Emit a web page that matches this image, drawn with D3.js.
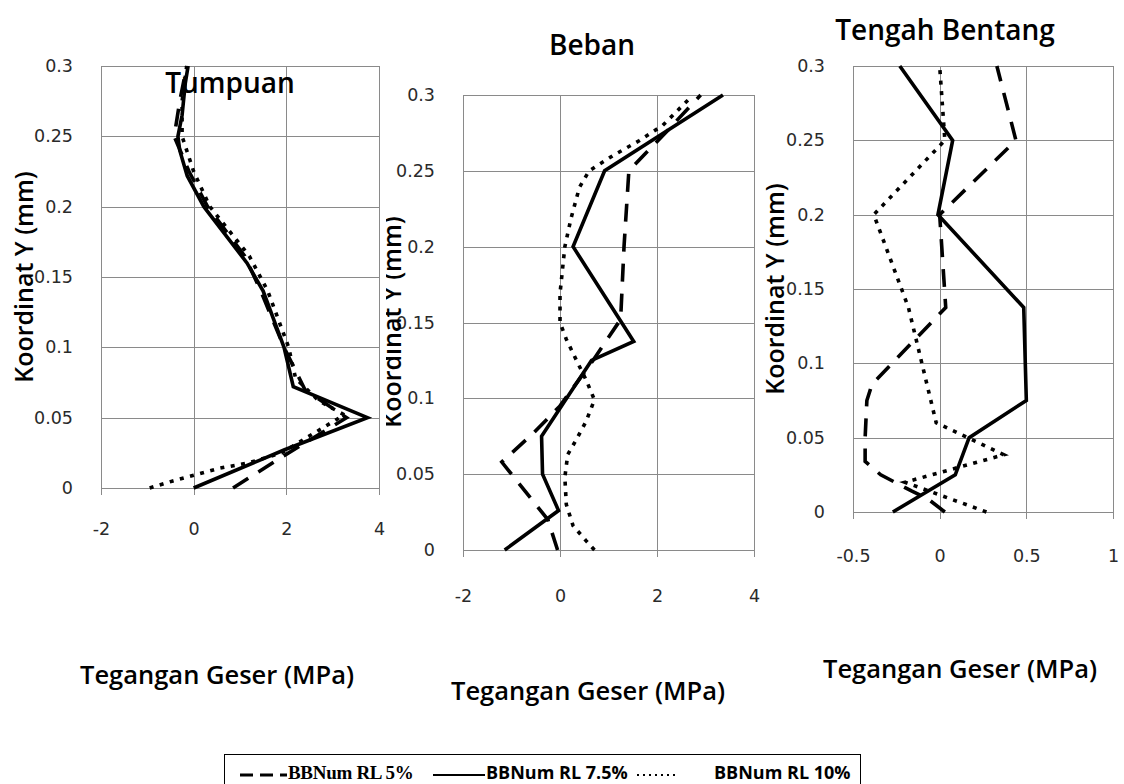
<!DOCTYPE html>
<html><head><meta charset="utf-8">
<script src="https://cdn.jsdelivr.net/npm/d3@7"></script>
<style>body{margin:0;background:#fff}</style>
</head><body><svg id="c" width="1124" height="784"></svg>
<script>
// ---------- data ----------
const seriesNames = ["BBNum RL 5%", "BBNum RL 7.5%", "BBNum RL 10%"];
const panelTitles = ["Tumpuan", "Beban", "Tengah Bentang"];
const yTitle = "Koordinat Y (mm)";
const xTitle = "Tegangan Geser (MPa)";
const yTickValues = [0, 0.05, 0.1, 0.15, 0.2, 0.25, 0.3];
const xTicksTumpuan = [-2, 0, 2, 4];
const xTicksBeban = [-2, 0, 2, 4];
const xTicksTengah = [-0.5, 0, 0.5, 1];

// [tegangan geser (MPa), koordinat Y (mm)]
const tumpuanRL5 = [[0.85,0],[1.9,0.022],[3.3,0.05],[2.4,0.07],[1.95,0.1],[1.45,0.14],[1.1,0.165],[0.3,0.2],[-0.1,0.225],[-0.42,0.25],[-0.3,0.275],[-0.15,0.3]];
const tumpuanRL75 = [[0,0],[1.95,0.027],[3.75,0.05],[2.15,0.072],[1.95,0.1],[1.5,0.14],[1.15,0.16],[0.22,0.2],[-0.14,0.222],[-0.3,0.24],[-0.34,0.25],[-0.25,0.265],[-0.18,0.288],[-0.12,0.3]];
const tumpuanRL10 = [[-0.95,0],[-0.45,0.005],[0,0.009],[0.55,0.014],[1.2,0.018],[1.9,0.025],[3.25,0.052],[2.7,0.062],[2.2,0.078],[2.05,0.1],[1.6,0.14],[1.2,0.165],[0.35,0.2],[0.0,0.225],[-0.25,0.25],[-0.25,0.275],[-0.15,0.3]];

const bebanRL5 = [[-0.05,0],[-0.25,0.02],[-1.2,0.058],[-0.55,0.077],[0,0.095],[0.68,0.125],[1.25,0.152],[1.32,0.2],[1.42,0.25],[2.2,0.276],[2.9,0.3]];
const bebanRL75 = [[-1.14,0],[-0.03,0.026],[-0.36,0.05],[-0.38,0.075],[0.65,0.125],[1.52,0.1375],[0.27,0.2],[0.92,0.25],[3.36,0.3]];
const bebanRL10 = [[0.71,0],[0.54,0.006],[0.27,0.016],[0.13,0.03],[0.1,0.048],[0.16,0.063],[0.34,0.073],[0.54,0.085],[0.71,0.099],[0.54,0.112],[0.34,0.125],[0.13,0.139],[0,0.15],[0,0.169],[0.1,0.2],[0.23,0.219],[0.4,0.239],[0.6,0.25],[1.09,0.26],[1.64,0.27],[2.12,0.28],[2.65,0.297]];

const tengahRL5 = [[0.03,0],[-0.07,0.009],[-0.16,0.014],[-0.34,0.025],[-0.43,0.034],[-0.43,0.05],[-0.42,0.075],[-0.39,0.086],[0.035,0.1375],[0.0,0.2],[0.44,0.25],[0.33,0.3]];
const tengahRL75 = [[-0.27,0],[0.09,0.025],[0.17,0.05],[0.5,0.075],[0.485,0.1375],[-0.01,0.2],[0.075,0.25],[-0.23,0.3]];
const tengahRL10 = [[0.27,0],[-0.2,0.02],[0.37,0.0385],[-0.02,0.06],[-0.18,0.1375],[-0.38,0.2],[0.03,0.25],[0.0,0.3]];

// ---------- layout ----------
const panels = [
  {title: panelTitles[0], xDomain: [-2,4], xTicks: xTicksTumpuan, left: 101, right: 379, top: 66, bottom: 488,
   series: [tumpuanRL5, tumpuanRL75, tumpuanRL10], titleX: 230, titleY: 93, yTitleX: 33, yTitleY: 277,
   xTitleX: 217, xTitleY: 684, xLabPad: 29, clipX: null},
  {title: panelTitles[1], xDomain: [-2,4], xTicks: xTicksBeban, left: 463, right: 754, top: 95, bottom: 550,
   series: [bebanRL5, bebanRL75, bebanRL10], titleX: 592, titleY: 55, yTitleX: 401, yTitleY: 322,
   xTitleX: 588, xTitleY: 700, xLabPad: 34, clipX: 386},
  {title: panelTitles[2], xDomain: [-0.5,1], xTicks: xTicksTengah, left: 853, right: 1113, top: 66, bottom: 512,
   series: [tengahRL5, tengahRL75, tengahRL10], titleX: 945, titleY: 40, yTitleX: 784, yTitleY: 289,
   xTitleX: 960, xTitleY: 678, xLabPad: 32, clipX: null}
];
const dashStyles = ["18 12", null, "4 6.5"];
const gridColor = "#8a8a8a";
const tickFont = "'DejaVu Sans', sans-serif";
const titleFont = "'Open Sans', sans-serif";

const svg = d3.select("#c");
svg.append("rect").attr("width", 1124).attr("height", 784).attr("fill", "#fff");
const defs = svg.append("defs");

panels.forEach((p, i) => {
  const g = svg.append("g");
  const x = d3.scaleLinear().domain(p.xDomain).range([p.left, p.right]);
  const y = d3.scaleLinear().domain([0, 0.3]).range([p.bottom, p.top]);

  // horizontal grid lines
  g.append("g").selectAll("line").data(yTickValues).join("line")
    .attr("x1", p.left).attr("x2", p.right)
    .attr("y1", d => Math.round(y(d)) + 0.5).attr("y2", d => Math.round(y(d)) + 0.5)
    .attr("stroke", gridColor).attr("stroke-width", 1);
  // vertical grid lines (with ticks extending below)
  g.append("g").selectAll("line").data(p.xTicks).join("line")
    .attr("x1", d => Math.round(x(d)) + 0.5).attr("x2", d => Math.round(x(d)) + 0.5)
    .attr("y1", p.top).attr("y2", p.bottom + 7)
    .attr("stroke", gridColor).attr("stroke-width", 1);

  // x axis labels
  const xa = g.append("g").attr("transform", `translate(0,${p.bottom})`)
    .call(d3.axisBottom(x).tickValues(p.xTicks).tickSize(0).tickPadding(p.xLabPad + 6).tickFormat(d => String(d)));
  xa.select(".domain").remove();
  xa.selectAll("text").attr("font-family", tickFont).attr("font-size", 17.5).attr("fill", "#2a2a2a");

  // y axis labels
  const ya = g.append("g").attr("transform", `translate(${p.left},0)`)
    .call(d3.axisLeft(y).tickValues(yTickValues).tickSize(0).tickPadding(28).tickFormat(d => String(d)));
  ya.select(".domain").remove();
  ya.selectAll("text").attr("font-family", tickFont).attr("font-size", 17.5).attr("fill", "#2a2a2a");

  // series lines
  const line = d3.line().x(d => x(d[0])).y(d => y(d[1]));
  p.series.forEach((s, k) => {
    g.append("path").datum(s).attr("d", line)
      .attr("fill", "none").attr("stroke", "#000").attr("stroke-width", 3.6)
      .attr("stroke-linejoin", "miter")
      .attr("stroke-dasharray", dashStyles[k]);
  });

  // panel title
  g.append("text").attr("x", p.titleX).attr("y", p.titleY).attr("text-anchor", "middle")
    .attr("font-family", titleFont).attr("font-weight", 600).attr("font-size", 28).attr("fill", "#000")
    .text(p.title);

  // y title (baseline at yTitleX, glyphs extending left)
  let yt = g.append("g");
  if (p.clipX !== null) {
    defs.append("clipPath").attr("id", "clip" + i).append("rect")
      .attr("x", p.clipX).attr("y", 0).attr("width", 1124).attr("height", 784);
    yt.attr("clip-path", `url(#clip${i})`);
  }
  yt.append("text").attr("transform", `translate(${p.yTitleX},${p.yTitleY}) rotate(-90)`)
    .attr("text-anchor", "middle")
    .attr("font-family", titleFont).attr("font-weight", 600).attr("font-size", 25).attr("fill", "#000")
    .text(yTitle);

  // x title
  g.append("text").attr("x", p.xTitleX).attr("y", p.xTitleY).attr("text-anchor", "middle")
    .attr("font-family", titleFont).attr("font-weight", 600).attr("font-size", 25.5).attr("fill", "#000")
    .text(xTitle);
});

// ---------- legend ----------
const lg = svg.append("g");
lg.append("rect").attr("x", 224.5).attr("y", 754.5).attr("width", 636).attr("height", 40)
  .attr("fill", "#fff").attr("stroke", "#000").attr("stroke-width", 1);
const legendItems = [
  {sx: 240, ex: 287, tx: 288, dash: "13 7", font: "'Liberation Serif', serif", size: 19, ls: -0.3, w: 3},
  {sx: 433, ex: 485, tx: 486, dash: null, font: "'Open Sans', sans-serif", size: 18, ls: 0, w: 2},
  {sx: 637, ex: 678, tx: 714, dash: "2 4", font: "'Open Sans', sans-serif", size: 18, ls: 0, w: 2}
];
legendItems.forEach((it, k) => {
  lg.append("line").attr("x1", it.sx).attr("x2", it.ex).attr("y1", 775).attr("y2", 775)
    .attr("stroke", "#000").attr("stroke-width", it.w).attr("stroke-dasharray", it.dash);
  lg.append("text").attr("x", it.tx).attr("y", 779)
    .attr("font-family", it.font).attr("font-weight", 700).attr("font-size", it.size)
    .attr("letter-spacing", it.ls).attr("fill", "#000").text(seriesNames[k]);
});
</script>
</body></html>
